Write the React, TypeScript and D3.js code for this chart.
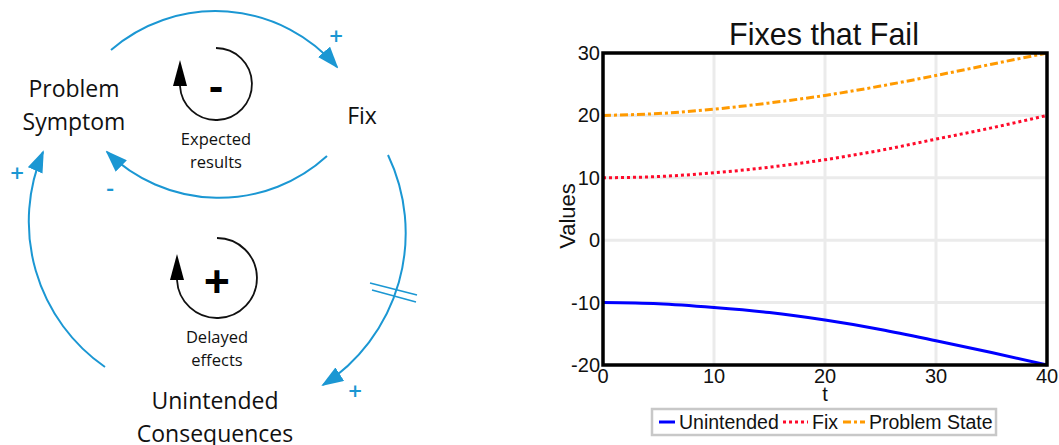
import React from "react";
import * as d3 from "d3";

// ---- chart data ----
const tValues = [0, 5, 10, 15, 20, 25, 30, 35, 40];
const unintended = [-10, -10.2, -10.8, -11.6, -12.8, -14.3, -16.1, -18.0, -20.0];
const fix = [10, 10.2, 10.8, 11.7, 12.9, 14.4, 16.2, 18.0, 20.0];
const problemState = [20, 20.3, 21.0, 22.0, 23.2, 24.7, 26.4, 28.2, 30.0];
const xTicks = [0, 10, 20, 30, 40];
const yTicks = [-20, -10, 0, 10, 20, 30];
const seriesNames = ["Unintended", "Fix", "Problem State"];
const chartTitle = "Fixes that Fail";

// ---- diagram labels ----
const problemLabel = ["Problem", "Symptom"];
const fixLabel = ["Fix"];
const consequenceLabel = ["Unintended", "Consequences"];
const expectedLabel = ["Expected", "results"];
const delayedLabel = ["Delayed", "effects"];

const BLUE = "#1b97d3";
const OPEN = "'Open Sans', 'Noto Sans', sans-serif";
const ARIAL = "'Liberation Sans', Arial, sans-serif";

function LoopIcon({ cx, cy, r, sign, signSize, signDy }: { cx: number; cy: number; r: number; sign: string; signSize: number; signDy: number }) {
  const d = `M${cx},${cy - r} A${r},${r} 0 1 1 ${cx - r},${cy + 2}`;
  const tipLen = 26;
  return (
    <g>
      <path d={d} fill="none" stroke="#111" strokeWidth={1.8} />
      <polygon
        points={`${cx - r - 7},${cy + 2} ${cx - r + 7},${cy + 2} ${cx - r},${cy + 2 - tipLen}`}
        fill="#000"
      />
      <text x={cx} y={cy + signDy} textAnchor="middle" dominantBaseline="central" fontFamily={OPEN} fontWeight={700} fontSize={signSize}>
        {sign}
      </text>
    </g>
  );
}

function Diagram() {
  const arcs = [
    "M111,50 A160,160 0 0 1 337,67",
    "M327,156 A160,160 0 0 1 107,152",
    "M388,155 A181,181 0 0 1 323,385",
    "M105,367 A177,177 0 0 1 43,152",
  ];
  const signs = [
    { x: 336, y: 35, s: "+" },
    { x: 110, y: 186, s: "-" },
    { x: 17, y: 172, s: "+" },
    { x: 355, y: 390, s: "+" },
  ];
  return (
    <g>
      <defs>
        <marker id="arrowBlue" viewBox="0 0 22 16" refX={20} refY={8} markerWidth={22} markerHeight={16} markerUnits="userSpaceOnUse" orient="auto">
          <path d="M0,0 L22,8 L0,16 Z" fill={BLUE} />
        </marker>
      </defs>
      {arcs.map((d, i) => (
        <path key={i} d={d} fill="none" stroke={BLUE} strokeWidth={2} markerEnd="url(#arrowBlue)" />
      ))}
      <line x1={370} y1={283} x2={417} y2={295} stroke={BLUE} strokeWidth={1.6} />
      <line x1={372} y1={290} x2={416} y2={302} stroke={BLUE} strokeWidth={1.6} />
      {signs.map((s, i) => (
        <text key={i} x={s.x} y={s.y} textAnchor="middle" dominantBaseline="central" fill={BLUE} fontFamily={OPEN} fontWeight={600} fontSize={24}>
          {s.s}
        </text>
      ))}
      <LoopIcon cx={216} cy={84} r={36} sign="-" signSize={42} signDy={0} />
      <LoopIcon cx={217} cy={278} r={40} sign="+" signSize={46} signDy={2} />
      {problemLabel.map((t, i) => (
        <text key={t} x={74} y={88 + i * 33} textAnchor="middle" dominantBaseline="central" fontFamily={OPEN} fontSize={23} fill="#111">{t}</text>
      ))}
      {fixLabel.map((t) => (
        <text key={t} x={362} y={115} textAnchor="middle" dominantBaseline="central" fontFamily={OPEN} fontSize={23} fill="#111">{t}</text>
      ))}
      {consequenceLabel.map((t, i) => (
        <text key={t} x={215} y={400 + i * 33} textAnchor="middle" dominantBaseline="central" fontFamily={OPEN} fontSize={23} fill="#111">{t}</text>
      ))}
      {expectedLabel.map((t, i) => (
        <text key={t} x={216} y={138 + i * 23} textAnchor="middle" dominantBaseline="central" fontFamily={OPEN} fontSize={16.5} fill="#111">{t}</text>
      ))}
      {delayedLabel.map((t, i) => (
        <text key={t} x={217} y={336 + i * 23} textAnchor="middle" dominantBaseline="central" fontFamily={OPEN} fontSize={16.5} fill="#111">{t}</text>
      ))}
    </g>
  );
}

function Chart() {
  const left = 603, right = 1047, top = 53, bottom = 365;
  const x = d3.scaleLinear().domain([0, 40]).range([left, right]);
  const y = d3.scaleLinear().domain([-20, 30]).range([bottom, top]);
  const line = d3
    .line<number>()
    .x((_, i) => x(tValues[i]))
    .y((d) => y(d))
    .curve(d3.curveMonotoneX);
  const series = [
    { name: seriesNames[0], data: unintended, color: "#0000ff", dash: "none" },
    { name: seriesNames[1], data: fix, color: "#ff0a2a", dash: "3,3" },
    { name: seriesNames[2], data: problemState, color: "#ff9a00", dash: "8,3,3,3" },
  ];
  const legendItems = [
    { x: 659, tx: 679 },
    { x: 783, tx: 812 },
    { x: 843, tx: 869 },
  ];
  return (
    <g>
      {xTicks.slice(1, -1).map((t) => (
        <line key={"gx" + t} x1={x(t)} x2={x(t)} y1={top} y2={bottom} stroke="#ebebeb" strokeWidth={3} />
      ))}
      {yTicks.slice(1, -1).map((t) => (
        <line key={"gy" + t} x1={left} x2={right} y1={y(t)} y2={y(t)} stroke="#ebebeb" strokeWidth={3} />
      ))}
      {series.map((s) => (
        <path key={s.name} d={line(s.data) || ""} fill="none" stroke={s.color} strokeWidth={3} strokeDasharray={s.dash} />
      ))}
      <rect x={left} y={top} width={right - left} height={bottom - top} fill="none" stroke="#000" strokeWidth={3.5} />
      {yTicks.map((t) => (
        <text key={"ty" + t} x={600} y={y(t)} textAnchor="end" dominantBaseline="central" fontFamily={ARIAL} fontSize={20} fill="#111">{t}</text>
      ))}
      {xTicks.map((t) => (
        <text key={"tx" + t} x={x(t)} y={383} textAnchor="middle" fontFamily={ARIAL} fontSize={20} fill="#111">{t}</text>
      ))}
      <text x={825} y={401} textAnchor="middle" fontFamily={ARIAL} fontSize={20} fill="#111">t</text>
      <text transform="translate(575,216) rotate(-90)" textAnchor="middle" fontFamily={ARIAL} fontSize={22} fill="#111">Values</text>
      <text x={824} y={45} textAnchor="middle" fontFamily={ARIAL} fontSize={30.5} fill="#111">{chartTitle}</text>
      <rect x={652} y={409} width={344} height={26} fill="#fff" stroke="#c8c8c8" strokeWidth={2.5} />
      {series.map((s, i) => (
        <g key={"lg" + s.name}>
          <line x1={legendItems[i].x} x2={legendItems[i].tx - 4} y1={422} y2={422} stroke={s.color} strokeWidth={3} strokeDasharray={s.dash} />
          <text x={legendItems[i].tx} y={429} fontFamily={ARIAL} fontSize={19.5} fill="#111">{s.name}</text>
        </g>
      ))}
    </g>
  );
}

export default function App() {
  return (
    <svg width={1059} height={445} style={{ position: "absolute", left: 0, top: 0, background: "#fff" }}>
      <rect width={1059} height={445} fill="#fff" />
      <Diagram />
      <Chart />
    </svg>
  );
}
